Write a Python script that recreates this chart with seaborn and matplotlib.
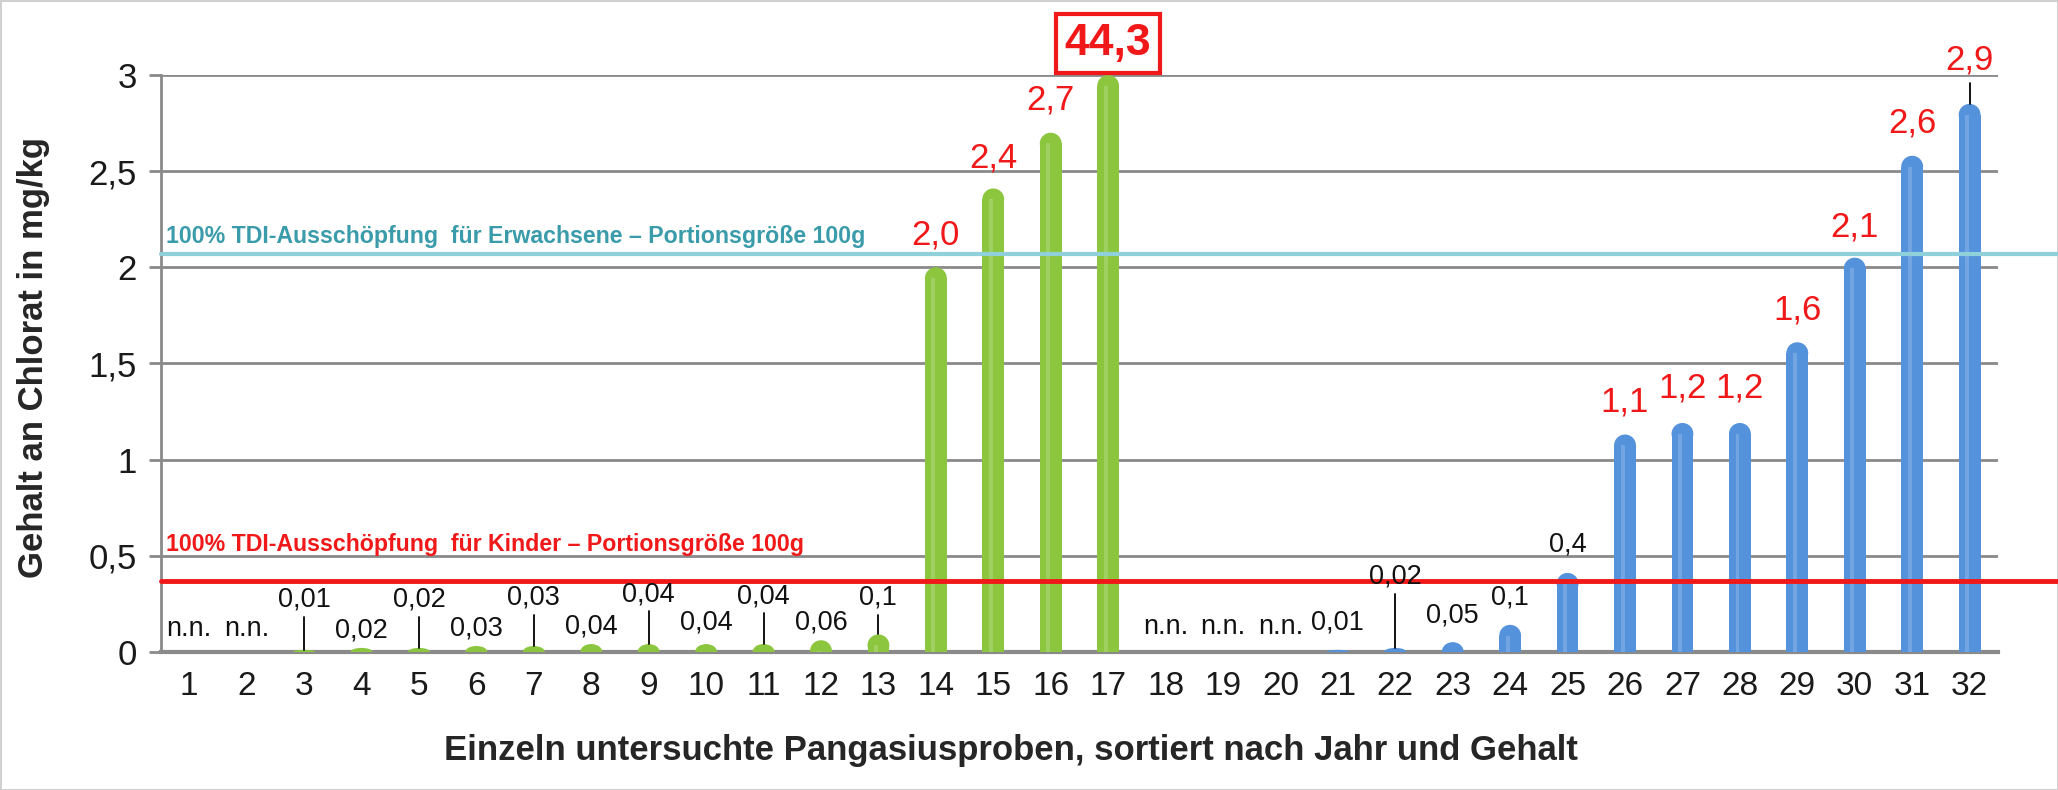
import matplotlib
matplotlib.use('Agg')
import matplotlib.pyplot as plt
from matplotlib.patches import Ellipse, Rectangle
import numpy as np
import pandas as pd
import seaborn as sns

# Daten
proben = [str(i) for i in range(1, 33)]
gehalt = [0, 0, 0.01, 0.02, 0.02, 0.03, 0.03, 0.04, 0.04, 0.04, 0.04, 0.06, 0.09,
          2.0, 2.41, 2.7, 44.3,
          0, 0, 0, 0.01, 0.02, 0.05, 0.14, 0.41, 1.13, 1.19, 1.19, 1.61, 2.05, 2.58, 2.85]
gruppe = ['alt'] * 17 + ['neu'] * 15
beschriftung = ['n.n.', 'n.n.', '0,01', '0,02', '0,02', '0,03', '0,03', '0,04', '0,04', '0,04',
                '0,04', '0,06', '0,1', '2,0', '2,4', '2,7', '44,3', 'n.n.', 'n.n.', 'n.n.',
                '0,01', '0,02', '0,05', '0,1', '0,4', '1,1', '1,2', '1,2', '1,6', '2,1', '2,6', '2,9']
y_ticks = [0, 0.5, 1, 1.5, 2, 2.5, 3]
y_ticklabels = ['0', '0,5', '1', '1,5', '2', '2,5', '3']
tdi_erwachsene = 2.07
tdi_kinder = 0.37

# Layout der Beschriftungen (Mitte der Texte, in Achseneinheiten)
label_y = [0.12, 0.12, 0.27, 0.11, 0.27, 0.12, 0.28, 0.13, 0.30, 0.15, 0.29, 0.15, 0.28,
           2.17, 2.57, 2.87, 3.165, 0.13, 0.13, 0.13, 0.15, 0.39, 0.19, 0.28, 0.56,
           1.30, 1.37, 1.37, 1.78, 2.21, 2.75, 3.08]
mit_linie = [3, 5, 7, 9, 11, 13, 22, 32]

sns.set_theme(style='white')
plt.rcParams['font.family'] = ['Liberation Sans', 'DejaVu Sans']

df = pd.DataFrame({'Probe': proben, 'Gehalt': gehalt, 'Gruppe': gruppe})
y_max = 3.0
df['Hoehe'] = np.minimum(df['Gehalt'], y_max)

fig = plt.figure(figsize=(20.58, 7.9), dpi=100)
ax = fig.add_axes([0.078, 0.175, 0.893, 0.730])

farben = {'alt': '#8CC63F', 'neu': '#5592DC'}
sns.barplot(data=df, x='Probe', y='Hoehe', hue='Gruppe', palette=farben,
            width=0.38, dodge=False, legend=False, saturation=1, ax=ax, zorder=3)

ax.set_ylim(0, y_max)
ax.set_xlim(-0.5, 31.5)

# abgerundete Köpfe der Säulen
r_v = 0.056
for p in list(ax.patches):
    h = p.get_height()
    if h <= 0:
        p.set_visible(False)
        continue
    x, w = p.get_x(), p.get_width()
    col = p.get_facecolor()
    cap_h = min(r_v, h)
    p.set_height(max(h - r_v, 0))
    p.set_edgecolor('none')
    ax.add_patch(Ellipse((x + w / 2, max(h - r_v, 0)), w, 2 * cap_h,
                         facecolor=col, edgecolor='none', zorder=3))
    # leichter Glanz für die Zylinderoptik
    ax.add_patch(Rectangle((x + w * 0.3, 0), w * 0.18, max(h - r_v, 0),
                           facecolor='white', alpha=0.18, edgecolor='none', zorder=3.5))

# Grenzwertlinien
ax.axhline(tdi_erwachsene, xmin=0, xmax=1.033, color='#8FD0DA', lw=3, clip_on=False, zorder=4)
ax.axhline(tdi_kinder, xmin=0, xmax=1.033, color='#F01818', lw=3.5, clip_on=False, zorder=4)
ax.text(-0.4, 2.16, '100% TDI-Ausschöpfung  für Erwachsene – Portionsgröße 100g',
        color='#3A9BAA', fontsize=16.7, fontweight='bold', va='center', ha='left', zorder=5)
ax.text(-0.4, 0.557, '100% TDI-Ausschöpfung  für Kinder – Portionsgröße 100g',
        color='#F01818', fontsize=16.7, fontweight='bold', va='center', ha='left', zorder=5)

# Werte
for i, (txt, ly) in enumerate(zip(beschriftung, label_y)):
    wert = df['Hoehe'][i]
    if txt == '44,3':
        ax.text(i, ly, txt, ha='center', va='center', color='#F01818', fontsize=32,
                fontweight='bold', zorder=6,
                bbox=dict(boxstyle='square,pad=0.2', facecolor='white', edgecolor='#F01818', lw=3))
        continue
    rot = gehalt[i] >= 1.0
    ax.text(i, ly, txt, ha='center', va='center', color='#F01818' if rot else '#111111',
            fontsize=25 if rot else 19.5, zorder=6, clip_on=False)
    if (i + 1) in mit_linie:
        oben = ly - (0.12 if rot else 0.09)
        ax.plot([i, i], [oben, wert], color='black', lw=1.3, zorder=6, clip_on=False)

# Achsen
ax.set_yticks(y_ticks)
ax.set_yticklabels(y_ticklabels)
ax.yaxis.grid(True, color='#8A8A8A', lw=2)
ax.set_axisbelow(True)
ax.set_xticks(range(32))
ax.set_xticks(np.arange(-0.5, 32, 1), minor=True)
ax.tick_params(axis='x', which='major', length=0, labelsize=24, pad=14, colors='#1A1A1A')
ax.tick_params(axis='x', which='minor', length=14, width=2, color='#8A8A8A', direction='out')
ax.tick_params(axis='y', length=9, width=2, color='#8A8A8A', labelsize=25, pad=8,
               direction='out', left=True, labelcolor='#1A1A1A')
for s in ['top', 'right']:
    ax.spines[s].set_visible(False)
ax.spines['left'].set_color('#8A8A8A')
ax.spines['left'].set_linewidth(2)
ax.spines['bottom'].set_color('#8A8A8A')
ax.spines['bottom'].set_linewidth(3)

ax.set_xlabel('Einzeln untersuchte Pangasiusproben, sortiert nach Jahr und Gehalt',
              fontsize=25, fontweight='bold')
ax.xaxis.set_label_coords(0.463, -0.142)
ax.set_ylabel('Gehalt an Chlorat in mg/kg', fontsize=25, fontweight='bold')
ax.yaxis.set_label_coords(-0.060, 0.511)

fig.patch.set_edgecolor('#D0D0D0')
fig.patch.set_linewidth(2)

fig.savefig('out.png', dpi=100, edgecolor=fig.get_edgecolor())
